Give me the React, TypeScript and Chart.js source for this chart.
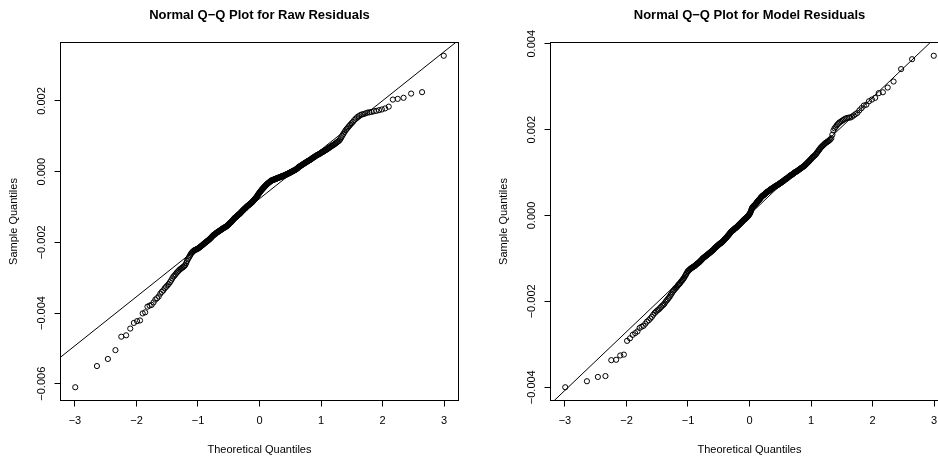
import React, { useEffect, useRef } from "react";
import { Chart, registerables } from "chart.js";

Chart.register(...registerables);

// Sorted sample quantiles of the residuals (one value per observation).
const rawResiduals: number[] = [
  -0.0061, -0.0055, -0.0053, -0.00505, -0.00467, -0.00463, -0.00444, -0.00428, -0.00423, -0.00421,
  -0.00401, -0.00398, -0.00382, -0.00379, -0.00377, -0.0037, -0.00362, -0.00358, -0.00353, -0.00345,
  -0.0034, -0.00336, -0.0033, -0.00326, -0.00322, -0.00318, -0.00313, -0.00308, -0.00302, -0.00297,
  -0.00294, -0.0029, -0.00286, -0.00283, -0.0028, -0.00277, -0.00275, -0.00273, -0.00271, -0.00269,
  -0.00267, -0.00264, -0.00259, -0.00253, -0.00248, -0.00244, -0.0024, -0.00236, -0.00232, -0.00229,
  -0.00227, -0.00225, -0.00223, -0.00222, -0.00221, -0.0022, -0.00219, -0.00218, -0.00217, -0.00215,
  -0.00214, -0.00212, -0.00211, -0.00209, -0.00208, -0.00206, -0.00205, -0.00203, -0.00202, -0.002,
  -0.00199, -0.00197, -0.00196, -0.00195, -0.00193, -0.00192, -0.0019, -0.00189, -0.00187, -0.00185,
  -0.00184, -0.00182, -0.0018, -0.00179, -0.00178, -0.00177, -0.00176, -0.00174, -0.00173, -0.00172,
  -0.00171, -0.0017, -0.00169, -0.00168, -0.00167, -0.00166, -0.00165, -0.00164, -0.00163, -0.00162,
  -0.00161, -0.0016, -0.00159, -0.00158, -0.00158, -0.00157, -0.00156, -0.00155, -0.00154, -0.00153,
  -0.00152, -0.0015, -0.00149, -0.00148, -0.00146, -0.00145, -0.00144, -0.00143, -0.00141, -0.0014,
  -0.00138, -0.00137, -0.00135, -0.00134, -0.00132, -0.00131, -0.0013, -0.00129, -0.00128, -0.00127,
  -0.00125, -0.00124, -0.00123, -0.00122, -0.00121, -0.0012, -0.00119, -0.00118, -0.00116, -0.00115,
  -0.00114, -0.00112, -0.00111, -0.0011, -0.00109, -0.00107, -0.00106, -0.00105, -0.00104, -0.00103,
  -0.00102, -0.001, -0.00099, -0.00098, -0.00097, -0.00096, -0.00095, -0.00094, -0.00093, -0.00092,
  -0.00091, -0.0009, -0.00089, -0.00088, -0.00087, -0.00086, -0.00084, -0.00083, -0.00082, -0.0008,
  -0.00079, -0.00077, -0.00076, -0.00075, -0.00073, -0.00072, -0.0007, -0.00068, -0.00066, -0.00064,
  -0.00063, -0.00061, -0.00059, -0.00058, -0.00056, -0.00055, -0.00053, -0.00052, -0.0005, -0.00049,
  -0.00048, -0.00046, -0.00045, -0.00044, -0.00042, -0.00041, -0.0004, -0.00039, -0.00037, -0.00036,
  -0.00035, -0.00034, -0.00033, -0.00032, -0.00031, -0.0003, -0.00029, -0.00028, -0.00027, -0.00026,
  -0.00025, -0.00025, -0.00024, -0.00024, -0.00023, -0.00023, -0.00022, -0.00022, -0.00021, -0.00021,
  -0.0002, -0.0002, -0.00019, -0.00019, -0.00018, -0.00018, -0.00017, -0.00017, -0.00016, -0.00016,
  -0.00015, -0.00015, -0.00014, -0.00014, -0.00013, -0.00013, -0.00012, -0.00012, -0.00011, -0.00011,
  -0.0001, -0.0001, -0.00009, -0.00008, -0.00008, -0.00007, -0.00006, -0.00006, -0.00005, -0.00004,
  -0.00004, -0.00003, -0.00002, -0.00002, -0.00001, 0.0, 0.00001, 0.00001, 0.00002, 0.00003,
  0.00004, 0.00004, 0.00005, 0.00006, 0.00007, 0.00008, 0.00009, 0.0001, 0.00012, 0.00013,
  0.00014, 0.00015, 0.00016, 0.00017, 0.00018, 0.00019, 0.0002, 0.00021, 0.00022, 0.00023,
  0.00024, 0.00025, 0.00026, 0.00027, 0.00028, 0.00029, 0.0003, 0.00031, 0.00032, 0.00033,
  0.00034, 0.00035, 0.00036, 0.00038, 0.00039, 0.0004, 0.00041, 0.00042, 0.00044, 0.00045,
  0.00046, 0.00047, 0.00048, 0.00049, 0.0005, 0.00051, 0.00052, 0.00054, 0.00055, 0.00056,
  0.00057, 0.00058, 0.0006, 0.00061, 0.00062, 0.00064, 0.00065, 0.00067, 0.00068, 0.0007,
  0.00072, 0.00073, 0.00075, 0.00076, 0.00078, 0.0008, 0.00082, 0.00084, 0.00086, 0.00088,
  0.00092, 0.00097, 0.00102, 0.00107, 0.00112, 0.00117, 0.00121, 0.00125, 0.00129, 0.00133,
  0.00137, 0.00141, 0.00146, 0.0015, 0.00154, 0.00157, 0.0016, 0.00162, 0.00163, 0.00165,
  0.00167, 0.00168, 0.00169, 0.00171, 0.00172, 0.00174, 0.00176, 0.00179, 0.00184, 0.00204,
  0.00206, 0.00209, 0.00221, 0.00225, 0.00328,
];

const modelResiduals: number[] = [
  -0.004, -0.00386, -0.00376, -0.00374, -0.00337, -0.00336, -0.00326, -0.00324, -0.00292, -0.00286,
  -0.00278, -0.00274, -0.0027, -0.00262, -0.00259, -0.00257, -0.00252, -0.00247, -0.00244, -0.0024,
  -0.00236, -0.00231, -0.00227, -0.00224, -0.00221, -0.00219, -0.00216, -0.00213, -0.0021, -0.00208,
  -0.00205, -0.00201, -0.00198, -0.00195, -0.00192, -0.00189, -0.00185, -0.00182, -0.00178, -0.00175,
  -0.00173, -0.0017, -0.00168, -0.00166, -0.00163, -0.00161, -0.00159, -0.00157, -0.00154, -0.00152,
  -0.0015, -0.00147, -0.00145, -0.00142, -0.00139, -0.00136, -0.00133, -0.0013, -0.00129, -0.00127,
  -0.00126, -0.00124, -0.00123, -0.00122, -0.00121, -0.0012, -0.00119, -0.00118, -0.00117, -0.00116,
  -0.00114, -0.00113, -0.00112, -0.00111, -0.0011, -0.00109, -0.00107, -0.00106, -0.00105, -0.00103,
  -0.00102, -0.001, -0.00099, -0.00098, -0.00097, -0.00096, -0.00095, -0.00094, -0.00093, -0.00092,
  -0.00091, -0.0009, -0.00089, -0.00088, -0.00087, -0.00086, -0.00085, -0.00084, -0.00083, -0.00082,
  -0.00081, -0.0008, -0.00079, -0.00077, -0.00076, -0.00075, -0.00074, -0.00073, -0.00072, -0.00071,
  -0.0007, -0.00069, -0.00068, -0.00067, -0.00066, -0.00065, -0.00065, -0.00064, -0.00063, -0.00062,
  -0.00061, -0.0006, -0.00059, -0.00058, -0.00056, -0.00055, -0.00054, -0.00053, -0.00052, -0.00051,
  -0.0005, -0.00048, -0.00047, -0.00046, -0.00045, -0.00043, -0.00042, -0.00041, -0.00039, -0.00038,
  -0.00037, -0.00036, -0.00035, -0.00035, -0.00034, -0.00033, -0.00032, -0.00031, -0.0003, -0.00029,
  -0.00029, -0.00028, -0.00027, -0.00026, -0.00025, -0.00024, -0.00023, -0.00022, -0.00021, -0.0002,
  -0.00019, -0.00018, -0.00017, -0.00016, -0.00015, -0.00014, -0.00013, -0.00012, -0.00011, -0.0001,
  -0.00009, -0.00008, -0.00008, -0.00007, -0.00006, -0.00005, -0.00004, -0.00003, -0.00002, -0.00001,
  0.00001, 0.00002, 0.00003, 0.00005, 0.00007, 0.00009, 0.00012, 0.00015, 0.00017, 0.00019,
  0.0002, 0.00021, 0.00022, 0.00023, 0.00024, 0.00025, 0.00026, 0.00027, 0.00029, 0.0003,
  0.00031, 0.00032, 0.00034, 0.00035, 0.00036, 0.00037, 0.00038, 0.00039, 0.00041, 0.00042,
  0.00043, 0.00044, 0.00045, 0.00046, 0.00047, 0.00047, 0.00048, 0.00049, 0.0005, 0.00051,
  0.00052, 0.00053, 0.00054, 0.00054, 0.00055, 0.00056, 0.00057, 0.00057, 0.00058, 0.00059,
  0.0006, 0.00061, 0.00061, 0.00062, 0.00063, 0.00063, 0.00064, 0.00065, 0.00065, 0.00066,
  0.00067, 0.00068, 0.00068, 0.00069, 0.0007, 0.0007, 0.00071, 0.00072, 0.00072, 0.00073,
  0.00074, 0.00075, 0.00075, 0.00076, 0.00077, 0.00078, 0.00079, 0.00079, 0.0008, 0.00081,
  0.00082, 0.00083, 0.00084, 0.00085, 0.00085, 0.00086, 0.00087, 0.00088, 0.00089, 0.0009,
  0.00091, 0.00092, 0.00093, 0.00094, 0.00094, 0.00095, 0.00096, 0.00097, 0.00098, 0.00099,
  0.001, 0.00101, 0.00102, 0.00102, 0.00103, 0.00104, 0.00105, 0.00106, 0.00107, 0.00108,
  0.00109, 0.0011, 0.00111, 0.00112, 0.00113, 0.00114, 0.00115, 0.00116, 0.00118, 0.00119,
  0.00121, 0.00122, 0.00124, 0.00125, 0.00127, 0.00129, 0.0013, 0.00132, 0.00134, 0.00136,
  0.00137, 0.00139, 0.0014, 0.00142, 0.00144, 0.00147, 0.00149, 0.00152, 0.00154, 0.00157,
  0.00159, 0.00161, 0.00163, 0.00165, 0.00167, 0.00169, 0.0017, 0.00172, 0.00173, 0.00175,
  0.00177, 0.0018, 0.00188, 0.00198, 0.00203, 0.00206, 0.0021, 0.00213, 0.00216, 0.00218,
  0.0022, 0.00222, 0.00224, 0.00226, 0.00227, 0.00228, 0.00228, 0.0023, 0.00233, 0.00236,
  0.00239, 0.00245, 0.0025, 0.00256, 0.00258, 0.00266, 0.0027, 0.00274, 0.00285, 0.00287,
  0.00298, 0.00312, 0.00341, 0.00364, 0.00372,
];

const theoreticalTicks = [-3, -2, -1, 0, 1, 2, 3];
const rawSampleTicks = [-0.006, -0.004, -0.002, 0, 0.002];
const modelSampleTicks = [-0.004, -0.002, 0, 0.002, 0.004];

const rawTitle = "Normal Q\u2212Q Plot for Raw Residuals";
const modelTitle = "Normal Q\u2212Q Plot for Model Residuals";
const xAxisTitle = "Theoretical Quantiles";
const yAxisTitle = "Sample Quantiles";

const FONT = "'Liberation Sans', Arial, Helvetica, sans-serif";
const INK = "#000";

// Inverse standard normal CDF (Acklam's rational approximation).
function qnorm(p: number): number {
  const a = [-3.969683028665376e1, 2.209460984245205e2, -2.759285104469687e2, 1.38357751867269e2, -3.066479806614716e1, 2.506628277459239];
  const b = [-5.447609879822406e1, 1.615858368580409e2, -1.556989798598866e2, 6.680131188771972e1, -1.328068155288572e1];
  const c = [-7.784894002430293e-3, -3.223964580411365e-1, -2.400758277161838, -2.549732539343734, 4.374664141464968, 2.938163982698783];
  const d = [7.784695709041462e-3, 3.224671290700398e-1, 2.445134137142996, 3.754408361805647];
  const lo = 0.02425;
  if (p < lo) {
    const q = Math.sqrt(-2 * Math.log(p));
    return (((((c[0] * q + c[1]) * q + c[2]) * q + c[3]) * q + c[4]) * q + c[5]) /
      ((((d[0] * q + d[1]) * q + d[2]) * q + d[3]) * q + 1);
  }
  if (p > 1 - lo) return -qnorm(1 - p);
  const q = p - 0.5;
  const r = q * q;
  return ((((((a[0] * r + a[1]) * r + a[2]) * r + a[3]) * r + a[4]) * r + a[5]) * q) /
    (((((b[0] * r + b[1]) * r + b[2]) * r + b[3]) * r + b[4]) * r + 1);
}

// Plotting positions used for normal probability plots.
function ppoints(n: number): number[] {
  const a = n <= 10 ? 3 / 8 : 0.5;
  return Array.from({ length: n }, (_, i) => (i + 1 - a) / (n + 1 - 2 * a));
}

// Type-7 sample quantile of sorted data.
function quantile(sorted: number[], prob: number): number {
  const h = (sorted.length - 1) * prob;
  const i = Math.floor(h);
  const j = Math.min(i + 1, sorted.length - 1);
  return sorted[i] + (h - i) * (sorted[j] - sorted[i]);
}

// Axis range widened by 4% on each side.
function padRange(lo: number, hi: number): [number, number] {
  const e = (hi - lo) * 0.04;
  return [lo - e, hi + e];
}

const withMinus = (s: string) => s.replace("-", "\u2212");

const frame = {
  id: "frame",
  afterDraw(chart: any) {
    const { ctx, chartArea: a } = chart;
    ctx.save();
    ctx.strokeStyle = INK;
    ctx.lineWidth = 1;
    ctx.strokeRect(a.left, a.top, a.right - a.left, a.bottom - a.top);
    ctx.restore();
  },
};

const CANVAS_W = 519;
const CANVAS_H = 457;
const AXIS_W = 60.5;

type PanelProps = { sample: number[]; title: string; yTicks: number[]; left: number };

function QQPanel({ sample, title, yTicks, left }: PanelProps) {
  const ref = useRef<HTMLCanvasElement | null>(null);

  useEffect(() => {
    if (!ref.current) return;
    const sorted = [...sample].sort((p, q) => p - q);
    const n = sorted.length;
    const theo = ppoints(n).map(qnorm);
    const points = sorted.map((v, i) => ({ x: theo[i], y: v }));
    const [xMin, xMax] = padRange(theo[0], theo[n - 1]);
    const [yMin, yMax] = padRange(sorted[0], sorted[n - 1]);

    // Reference line through the first and third quartiles.
    const q1 = quantile(sorted, 0.25);
    const q3 = quantile(sorted, 0.75);
    const z1 = qnorm(0.25);
    const z3 = qnorm(0.75);
    const slope = (q3 - q1) / (z3 - z1);
    const intercept = q1 - slope * z1;
    const refLine = [xMin, xMax].map((x) => ({ x, y: intercept + slope * x }));

    const tickFont = { family: FONT, size: 11 };
    const grid = {
      display: true,
      drawOnChartArea: false,
      drawTicks: true,
      tickLength: 6,
      tickColor: INK,
      color: INK,
      lineWidth: 1,
    };

    const chart = new Chart(ref.current, {
      type: "scatter",
      data: {
        datasets: [
          {
            data: points,
            showLine: false,
            pointStyle: "circle",
            pointRadius: 2.6,
            pointHoverRadius: 2.6,
            pointBorderWidth: 1,
            pointBorderColor: INK,
            pointBackgroundColor: "rgba(0,0,0,0)",
          },
          {
            data: refLine,
            showLine: true,
            borderColor: INK,
            borderWidth: 1,
            pointRadius: 0,
            pointHoverRadius: 0,
            clip: 0,
          },
        ],
      },
      options: {
        animation: false,
        responsive: false,
        devicePixelRatio: 1,
        events: [],
        layout: { padding: 0 },
        plugins: {
          legend: { display: false },
          tooltip: { enabled: false },
          title: {
            display: true,
            text: title,
            color: INK,
            font: { family: FONT, size: 13, weight: "bold" },
            padding: { top: 7.5, bottom: 19.4 },
          },
        },
        scales: {
          x: {
            type: "linear",
            position: "bottom",
            min: xMin,
            max: xMax,
            afterBuildTicks: (s: any) => {
              s.ticks = theoreticalTicks.map((value) => ({ value }));
            },
            afterFit: (s: any) => {
              s.height = 56.5;
            },
            ticks: {
              color: INK,
              font: tickFont,
              padding: 8,
              autoSkip: false,
              minRotation: 0,
              maxRotation: 0,
              includeBounds: false,
              callback: (v: any) => withMinus(String(v)),
            },
            grid,
            border: { display: false },
            title: {
              display: true,
              text: xAxisTitle,
              color: INK,
              font: tickFont,
              padding: { top: 0, bottom: 0.5 },
            },
          },
          y: {
            type: "linear",
            position: "left",
            min: yMin,
            max: yMax,
            afterBuildTicks: (s: any) => {
              s.ticks = yTicks.map((value) => ({ value }));
            },
            afterFit: (s: any) => {
              s.width = AXIS_W;
            },
            ticks: {
              color: INK,
              font: tickFont,
              padding: -4,
              autoSkip: false,
              minRotation: 90,
              maxRotation: 90,
              crossAlign: "center",
              callback: (v: any) => withMinus(Number(v).toFixed(3)),
            },
            grid,
            border: { display: false },
            title: {
              display: true,
              text: yAxisTitle,
              color: INK,
              font: tickFont,
              padding: { top: 7, bottom: 0 },
            },
          },
          // Empty right-hand gutter so the plot region sits centred under the title.
          gutter: {
            type: "linear",
            axis: "y",
            position: "right",
            display: true,
            ticks: { display: false },
            grid: { display: false },
            border: { display: false },
            afterFit: (s: any) => {
              s.width = AXIS_W;
            },
          },
        },
      },
      plugins: [frame],
    } as any);

    return () => chart.destroy();
  }, [sample, title, yTicks]);

  return (
    <canvas
      ref={ref}
      width={CANVAS_W}
      height={CANVAS_H}
      style={{ position: "absolute", left, top: 0, width: CANVAS_W, height: CANVAS_H }}
    />
  );
}

export default function App() {
  return (
    <div
      style={{
        position: "fixed",
        left: 0,
        top: 0,
        width: 938,
        height: 457,
        overflow: "hidden",
        background: "#fff",
      }}
    >
      <QQPanel sample={rawResiduals} title={rawTitle} yTicks={rawSampleTicks} left={0} />
      <QQPanel sample={modelResiduals} title={modelTitle} yTicks={modelSampleTicks} left={490} />
    </div>
  );
}
